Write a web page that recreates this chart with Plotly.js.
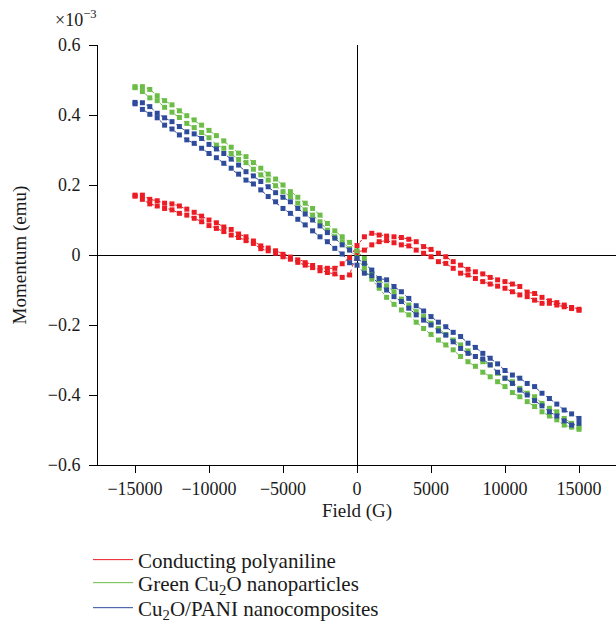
<!DOCTYPE html>
<html>
<head>
<meta charset="utf-8">
<script src="https://cdn.plot.ly/plotly-3.0.1.min.js"></script>
<style>html,body{margin:0;padding:0;background:#fff;}#chart{width:616px;height:624px;}</style>
</head>
<body>
<div id="chart"></div>
<script>
// Field values (G), -15000 .. 15000 in 500 G steps
const field = [-15000,-14500,-14000,-13500,-13000,-12500,-12000,-11500,-11000,-10500,-10000,-9500,-9000,-8500,-8000,-7500,-7000,-6500,-6000,-5500,-5000,-4500,-4000,-3500,-3000,-2500,-2000,-1500,-1000,-500,0,500,1000,1500,2000,2500,3000,3500,4000,4500,5000,5500,6000,6500,7000,7500,8000,8500,9000,9500,10000,10500,11000,11500,12000,12500,13000,13500,14000,14500,15000];

// Momentum (x10^-3 emu)
const pani_a = [0.171,0.171,0.159,0.155,0.148,0.146,0.140,0.131,0.122,0.111,0.100,0.092,0.080,0.073,0.060,0.052,0.040,0.026,0.020,0.012,0.002,-0.006,-0.014,-0.022,-0.030,-0.036,-0.038,-0.038,-0.025,-0.008,0.027,0.052,0.062,0.057,0.054,0.052,0.050,0.045,0.038,0.024,0.016,0.005,-0.005,-0.019,-0.029,-0.041,-0.048,-0.054,-0.064,-0.071,-0.076,-0.083,-0.090,-0.106,-0.110,-0.121,-0.131,-0.136,-0.143,-0.150,-0.155];
const pani_b = [0.168,0.159,0.146,0.140,0.133,0.129,0.119,0.114,0.105,0.095,0.084,0.076,0.067,0.057,0.050,0.041,0.033,0.018,0.012,0.005,-0.005,-0.012,-0.021,-0.029,-0.036,-0.045,-0.050,-0.054,-0.064,-0.057,0.008,0.014,0.029,0.038,0.041,0.035,0.029,0.026,0.014,0.005,-0.005,-0.019,-0.024,-0.038,-0.052,-0.057,-0.067,-0.076,-0.083,-0.089,-0.095,-0.105,-0.114,-0.119,-0.129,-0.138,-0.138,-0.143,-0.148,-0.153,-0.158];

const cu2o_a = [0.481,0.481,0.473,0.455,0.441,0.429,0.412,0.398,0.386,0.371,0.356,0.341,0.326,0.308,0.291,0.281,0.264,0.248,0.231,0.217,0.200,0.181,0.165,0.148,0.133,0.114,0.090,0.069,0.052,0.036,0.012,-0.010,-0.052,-0.071,-0.088,-0.105,-0.126,-0.143,-0.162,-0.176,-0.195,-0.210,-0.227,-0.243,-0.257,-0.274,-0.290,-0.305,-0.314,-0.338,-0.352,-0.362,-0.381,-0.395,-0.405,-0.424,-0.438,-0.448,-0.467,-0.481,-0.492];
const cu2o_b = [0.478,0.467,0.449,0.441,0.422,0.408,0.393,0.376,0.364,0.350,0.335,0.314,0.305,0.290,0.273,0.264,0.245,0.229,0.214,0.198,0.181,0.167,0.148,0.129,0.114,0.095,0.071,0.052,0.038,0.018,-0.008,-0.038,-0.069,-0.095,-0.121,-0.141,-0.157,-0.171,-0.192,-0.210,-0.227,-0.243,-0.257,-0.271,-0.290,-0.305,-0.318,-0.335,-0.348,-0.362,-0.376,-0.393,-0.405,-0.419,-0.433,-0.448,-0.460,-0.471,-0.486,-0.492,-0.498];

const comp_a = [0.436,0.435,0.424,0.405,0.392,0.381,0.367,0.352,0.346,0.333,0.316,0.303,0.290,0.274,0.257,0.238,0.226,0.210,0.195,0.178,0.165,0.152,0.133,0.117,0.100,0.083,0.064,0.048,0.029,0.014,-0.010,-0.024,-0.043,-0.067,-0.071,-0.090,-0.105,-0.124,-0.145,-0.160,-0.176,-0.192,-0.205,-0.221,-0.233,-0.252,-0.264,-0.281,-0.295,-0.311,-0.330,-0.343,-0.352,-0.367,-0.376,-0.395,-0.410,-0.426,-0.443,-0.454,-0.467];
const comp_b = [0.432,0.416,0.402,0.392,0.371,0.360,0.343,0.329,0.319,0.305,0.290,0.278,0.262,0.248,0.231,0.214,0.203,0.186,0.167,0.152,0.133,0.119,0.102,0.086,0.069,0.052,0.038,0.019,0.003,-0.022,-0.029,-0.052,-0.059,-0.086,-0.100,-0.119,-0.133,-0.152,-0.171,-0.186,-0.200,-0.217,-0.229,-0.248,-0.267,-0.281,-0.290,-0.297,-0.314,-0.335,-0.352,-0.367,-0.386,-0.400,-0.416,-0.431,-0.448,-0.460,-0.474,-0.486,-0.481];

const seriesNames = ['Conducting polyaniline','Green Cu<sub>2</sub>O nanoparticles','Cu<sub>2</sub>O/PANI nanocomposites'];
const xTickVals = [-15000,-10000,-5000,0,5000,10000,15000];
const xTickText = ['\u221215000','\u221210000','\u22125000','0','5000','10000','15000'];
const yTickVals = [-0.6,-0.4,-0.2,0,0.2,0.4,0.6];
const yTickText = ['\u22120.6','\u22120.4','\u22120.2','0','0.2','0.4','0.6'];

const colors = ['#ec1c24','#6cbd47','#2e4b9c'];
const branches = [[pani_a,pani_b],[cu2o_a,cu2o_b],[comp_a,comp_b]];
const legendIds = ['legend','legend2','legend3'];
const legendRowY = [0.1026, 0.0657, 0.0256];   // container fraction

const FONT = 'Liberation Serif, Times New Roman, serif';
const TXT = '#1a1a1a';
const traces = [];
branches.forEach((pair, i) => {
  pair.forEach(ys => {
    traces.push({
      x: field, y: ys, type: 'scatter', mode: 'lines+markers',
      showlegend: false, hoverinfo: 'skip',
      line: {color: colors[i], width: 1, dash: 'dot'},
      marker: {symbol: 'square', size: 5, color: colors[i]}
    });
  });
});
seriesNames.forEach((n, i) => {
  traces.push({
    x: [null], y: [null], type: 'scatter', mode: 'lines', name: n,
    legend: legendIds[i],
    line: {color: colors[i], width: 1}
  });
});

const layout = {
  width: 616, height: 624,
  margin: {l: 98, r: 0, t: 45, b: 159},
  paper_bgcolor: '#fff', plot_bgcolor: '#fff',
  font: {family: FONT, size: 18, color: TXT},
  showlegend: true,
  xaxis: {
    range: [-17500, 17500], showgrid: false,
    zeroline: true, zerolinecolor: '#000', zerolinewidth: 1,
    showline: true, linecolor: '#000', linewidth: 1,
    ticks: 'outside', ticklen: 7, tickcolor: '#000', tickangle: 0,
    tickvals: xTickVals, ticktext: xTickText,
    tickfont: {family: FONT, size: 18, color: TXT},
    title: {text: 'Field (G)', font: {family: FONT, size: 19, color: TXT}, standoff: 6}
  },
  yaxis: {
    range: [-0.6, 0.6], showgrid: false,
    zeroline: true, zerolinecolor: '#000', zerolinewidth: 1,
    showline: true, linecolor: '#000', linewidth: 1,
    ticks: 'outside', ticklen: 8, tickcolor: '#000', ticklabelstandoff: 5,
    tickvals: yTickVals, ticktext: yTickText,
    tickfont: {family: FONT, size: 18, color: TXT},
    title: {text: 'Momentum (emu)', font: {family: FONT, size: 19, color: TXT}, standoff: 16}
  },
  annotations: [{
    xref: 'paper', yref: 'paper', x: -0.086, y: 1.0, xanchor: 'left', yanchor: 'bottom',
    yshift: 13, showarrow: false,
    text: '\u00d710<sup>\u22123</sup>', font: {family: FONT, size: 18, color: TXT}
  }]
};
legendIds.forEach((id, i) => {
  layout[id] = {
    xref: 'container', yref: 'container', x: 0.1429, y: legendRowY[i],
    xanchor: 'left', yanchor: 'middle', orientation: 'h', itemwidth: 40,
    font: {family: FONT, size: 21, color: TXT}, bgcolor: 'rgba(0,0,0,0)'
  };
});

Plotly.newPlot('chart', traces, layout, {displayModeBar: false, staticPlot: true});
</script>
</body>
</html>
